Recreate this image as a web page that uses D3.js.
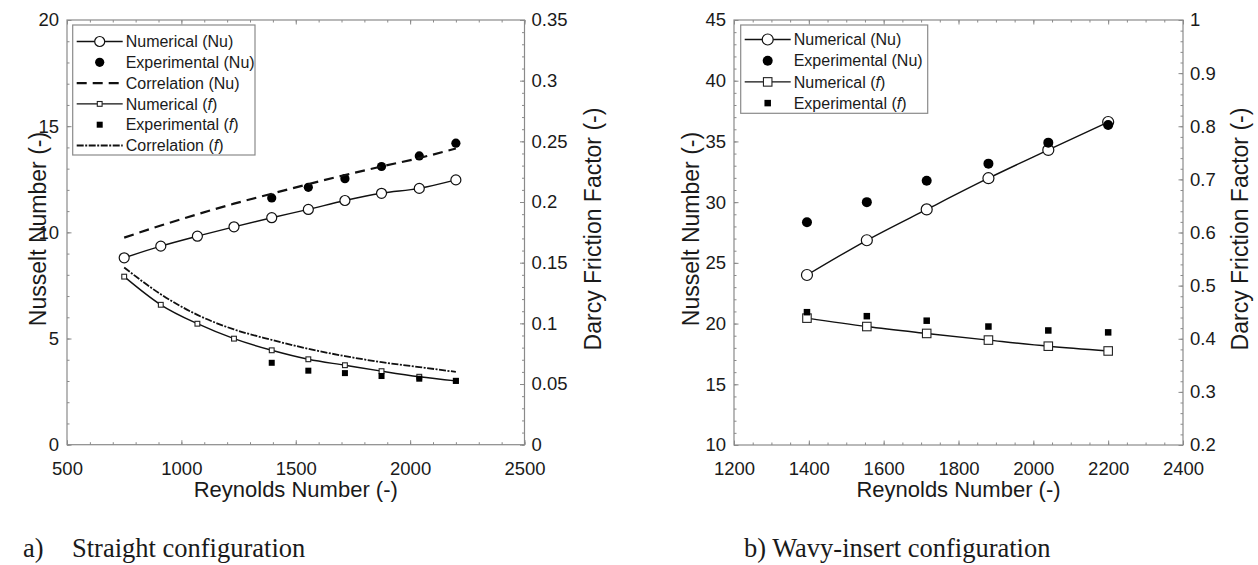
<!DOCTYPE html>
<html>
<head>
<meta charset="utf-8">
<script src="https://cdn.jsdelivr.net/npm/d3@7"></script>
<style>
  body { margin: 0; background: #fff; }
  text { font-family: "Liberation Sans", Arial, sans-serif; fill: #1a1a1a; }
  .caption { font-family: "Liberation Serif", "Times New Roman", serif; }
</style>
</head>
<body>
<svg id="chart" width="1258" height="565"></svg>
<script>
// ---- panel a) straight configuration ----
let reA = [750, 910, 1070, 1230, 1395, 1555, 1715, 1875, 2040, 2200];
let reAExp = [1395, 1555, 1715, 1875, 2040, 2200];
let nuNumA = [8.8, 9.35, 9.82, 10.26, 10.69, 11.08, 11.5, 11.84, 12.07, 12.47];
let nuExpA = [11.62, 12.12, 12.53, 13.1, 13.6, 14.2];
let nuCorrA = [9.75, 10.32, 10.85, 11.35, 11.82, 12.27, 12.7, 13.1, 13.5, 13.95];
let fNumA = [0.1385, 0.1153, 0.0997, 0.0874, 0.0778, 0.0704, 0.0655, 0.0606, 0.056, 0.0526];
let fExpA = [0.0675, 0.061, 0.059, 0.0566, 0.0544, 0.0526];
let fCorrA = [0.146, 0.124, 0.107, 0.095, 0.0864, 0.079, 0.073, 0.068, 0.064, 0.06];

// ---- panel b) wavy-insert configuration ----
let reB = [1395, 1555, 1715, 1880, 2040, 2200];
let nuNumB = [24.0, 26.86, 29.4, 31.97, 34.3, 36.6];
let nuExpB = [28.34, 30.0, 31.76, 33.17, 34.9, 36.35];
let fNumB = [0.4388, 0.423, 0.41, 0.3975, 0.386, 0.377];
let fExpB = [0.45, 0.4425, 0.434, 0.423, 0.4156, 0.412];

let svg = d3.select("#chart");
let fmt = v => String(+v.toFixed(2));
let steps = (a, b, s) => d3.range(a, b + s / 2, s).map(v => +v.toFixed(4));

function drawPanel(p) {
    let g = svg.append("g");
    let x = d3.scaleLinear().domain(p.xDomain).range([p.left, p.right]);
    let yNu = d3.scaleLinear().domain(p.nuDomain).range([p.bottom, p.top]);
    let yF = d3.scaleLinear().domain(p.fDomain).range([p.bottom, p.top]);

    // frame
    g.append("rect")
        .attr("x", p.left).attr("y", p.top)
        .attr("width", p.right - p.left).attr("height", p.bottom - p.top)
        .attr("fill", "none").attr("stroke", "#8a8a8a").attr("stroke-width", 1.2);

    // axes (inward ticks, minor + major)
    function addAxis(axis, tx, ty, vals, size, labels, pad) {
        let a = g.append("g").attr("transform", `translate(${tx},${ty})`)
            .call(axis.tickValues(vals).tickSize(-size).tickPadding(pad || 3)
                .tickFormat(labels ? fmt : ""));
        a.select(".domain").remove();
        a.selectAll(".tick line").attr("stroke", "#8a8a8a");
        a.selectAll("text").attr("font-size", 18.5).attr("fill", "#1a1a1a")
            .attr("font-family", "Liberation Sans, Arial, sans-serif");
        return a;
    }
    addAxis(d3.axisBottom(x), 0, p.bottom, steps(p.xDomain[0], p.xDomain[1], p.xMinor), 2.5, false);
    addAxis(d3.axisBottom(x), 0, p.bottom, steps(p.xDomain[0], p.xDomain[1], p.xMajor), 4.5, true, 17);
    addAxis(d3.axisTop(x), 0, p.top, steps(p.xDomain[0], p.xDomain[1], p.xMinor), 2.5, false);
    addAxis(d3.axisTop(x), 0, p.top, steps(p.xDomain[0], p.xDomain[1], p.xMajor), 4.5, false);
    addAxis(d3.axisLeft(yNu), p.left, 0, steps(p.nuDomain[0], p.nuDomain[1], p.nuMinor), 2.5, false);
    addAxis(d3.axisLeft(yNu), p.left, 0, steps(p.nuDomain[0], p.nuDomain[1], p.nuMajor), 4.5, true, 8);
    addAxis(d3.axisRight(yF), p.right, 0, steps(p.fDomain[0], p.fDomain[1], p.fMinor), 2.5, false);
    addAxis(d3.axisRight(yF), p.right, 0, steps(p.fDomain[0], p.fDomain[1], p.fMajor), 4.5, true, 7);

    // axis titles
    g.append("text").attr("x", (p.left + p.right) / 2).attr("y", 497)
        .attr("text-anchor", "middle").attr("font-size", 22).text("Reynolds Number (-)");
    g.append("text").attr("transform", `translate(${p.nuTitleX},${p.titleY}) rotate(-90)`)
        .attr("text-anchor", "middle").attr("font-size", 23).text("Nusselt Number (-)");
    g.append("text").attr("transform", `translate(${p.fTitleX},${p.titleY}) rotate(-90)`)
        .attr("text-anchor", "middle").attr("font-size", 23).text("Darcy Friction Factor (-)");

    // series
    p.series.forEach(s => {
        let y = s.axis === "nu" ? yNu : yF;
        let pts = s.re.map((r, i) => [x(r), y(s.values[i])]);
        if (s.line) {
            g.append("path")
                .attr("d", d3.line().curve(d3.curveMonotoneX)(pts))
                .attr("fill", "none").attr("stroke", "#111")
                .attr("stroke-width", s.width || 1.4)
                .attr("stroke-dasharray", s.dash || null);
        }
        drawMarkers(g, pts, s.marker);
    });

    // legend
    let lg = g.append("g");
    lg.append("rect").attr("x", p.legend.x).attr("y", p.legend.y)
        .attr("width", p.legend.w).attr("height", p.legend.h)
        .attr("fill", "#fff").attr("stroke", "#8a8a8a").attr("stroke-width", 1.2);
    p.series.forEach((s, i) => {
        let cy = p.legend.y + p.legend.row0 + i * p.legend.dy;
        let lx0 = p.legend.x + 4, lx1 = p.legend.x + 50, mx = p.legend.x + 27;
        if (s.line) {
            lg.append("line").attr("x1", lx0).attr("x2", lx1).attr("y1", cy).attr("y2", cy)
                .attr("stroke", "#111").attr("stroke-width", s.width || 1.4)
                .attr("stroke-dasharray", s.dash || null);
        }
        drawMarkers(lg, [[mx, cy]], s.marker);
        let t = lg.append("text").attr("x", p.legend.x + 53).attr("y", cy).attr("dy", "0.36em")
            .attr("font-size", 16);
        t.append("tspan").text(s.name + " (");
        if (s.sym === "f") t.append("tspan").attr("font-style", "italic").text("f");
        else t.append("tspan").text(s.sym);
        t.append("tspan").text(")");
    });
}

function drawMarkers(g, pts, m) {
    if (!m) return;
    if (m.shape === "circle") {
        g.selectAll(null).data(pts).join("circle")
            .attr("cx", d => d[0]).attr("cy", d => d[1]).attr("r", m.size)
            .attr("fill", m.filled ? "#000" : "#fff")
            .attr("stroke", m.filled ? "none" : "#111").attr("stroke-width", 1.2);
    } else {
        g.selectAll(null).data(pts).join("rect")
            .attr("x", d => d[0] - m.size / 2).attr("y", d => d[1] - m.size / 2)
            .attr("width", m.size).attr("height", m.size)
            .attr("fill", m.filled ? "#000" : "#fff")
            .attr("stroke", m.filled ? "none" : "#222").attr("stroke-width", 1.1);
    }
}

drawPanel({
    left: 67, right: 524.5, top: 20, bottom: 444.7,
    xDomain: [500, 2500], xMajor: 500, xMinor: 100,
    nuDomain: [0, 20], nuMajor: 5, nuMinor: 1,
    fDomain: [0, 0.35], fMajor: 0.05, fMinor: 0.01,
    nuTitleX: 46, fTitleX: 601, titleY: 229,
    legend: { x: 72.7, y: 25, w: 182.3, h: 130, row0: 16.5, dy: 20.8 },
    series: [
        { name: "Numerical", sym: "Nu", axis: "nu", re: reA, values: nuNumA, line: true,
          marker: { shape: "circle", size: 5 } },
        { name: "Experimental", sym: "Nu", axis: "nu", re: reAExp, values: nuExpA, line: false,
          marker: { shape: "circle", size: 4.6, filled: true } },
        { name: "Correlation", sym: "Nu", axis: "nu", re: reA, values: nuCorrA, line: true,
          dash: "10,6", width: 2.2 },
        { name: "Numerical", sym: "f", axis: "f", re: reA, values: fNumA, line: true,
          marker: { shape: "square", size: 4.8 } },
        { name: "Experimental", sym: "f", axis: "f", re: reAExp, values: fExpA, line: false,
          marker: { shape: "square", size: 6, filled: true } },
        { name: "Correlation", sym: "f", axis: "f", re: reA, values: fCorrA, line: true,
          dash: "7,1.5,2,1.5", width: 1.8 }
    ]
});

drawPanel({
    left: 734, right: 1183, top: 20, bottom: 445,
    xDomain: [1200, 2400], xMajor: 200, xMinor: 50,
    nuDomain: [10, 45], nuMajor: 5, nuMinor: 1,
    fDomain: [0.2, 1], fMajor: 0.1, fMinor: 0.02,
    nuTitleX: 699, fTitleX: 1248, titleY: 229,
    legend: { x: 740.7, y: 25, w: 187, h: 88.3, row0: 14.5, dy: 21.2 },
    series: [
        { name: "Numerical", sym: "Nu", axis: "nu", re: reB, values: nuNumB, line: true,
          marker: { shape: "circle", size: 5.5 } },
        { name: "Experimental", sym: "Nu", axis: "nu", re: reB, values: nuExpB, line: false,
          marker: { shape: "circle", size: 5, filled: true } },
        { name: "Numerical", sym: "f", axis: "f", re: reB, values: fNumB, line: true,
          marker: { shape: "square", size: 8.5 } },
        { name: "Experimental", sym: "f", axis: "f", re: reB, values: fExpB, line: false,
          marker: { shape: "square", size: 6.5, filled: true } }
    ]
});

// captions
svg.append("text").attr("class", "caption").attr("x", 23).attr("y", 557)
    .attr("font-size", 26.5).text("a)");
svg.append("text").attr("class", "caption").attr("x", 72).attr("y", 557)
    .attr("font-size", 26.5).text("Straight configuration");
svg.append("text").attr("class", "caption").attr("x", 744).attr("y", 557)
    .attr("font-size", 26.5).text("b) Wavy-insert configuration");
</script>
</body>
</html>
